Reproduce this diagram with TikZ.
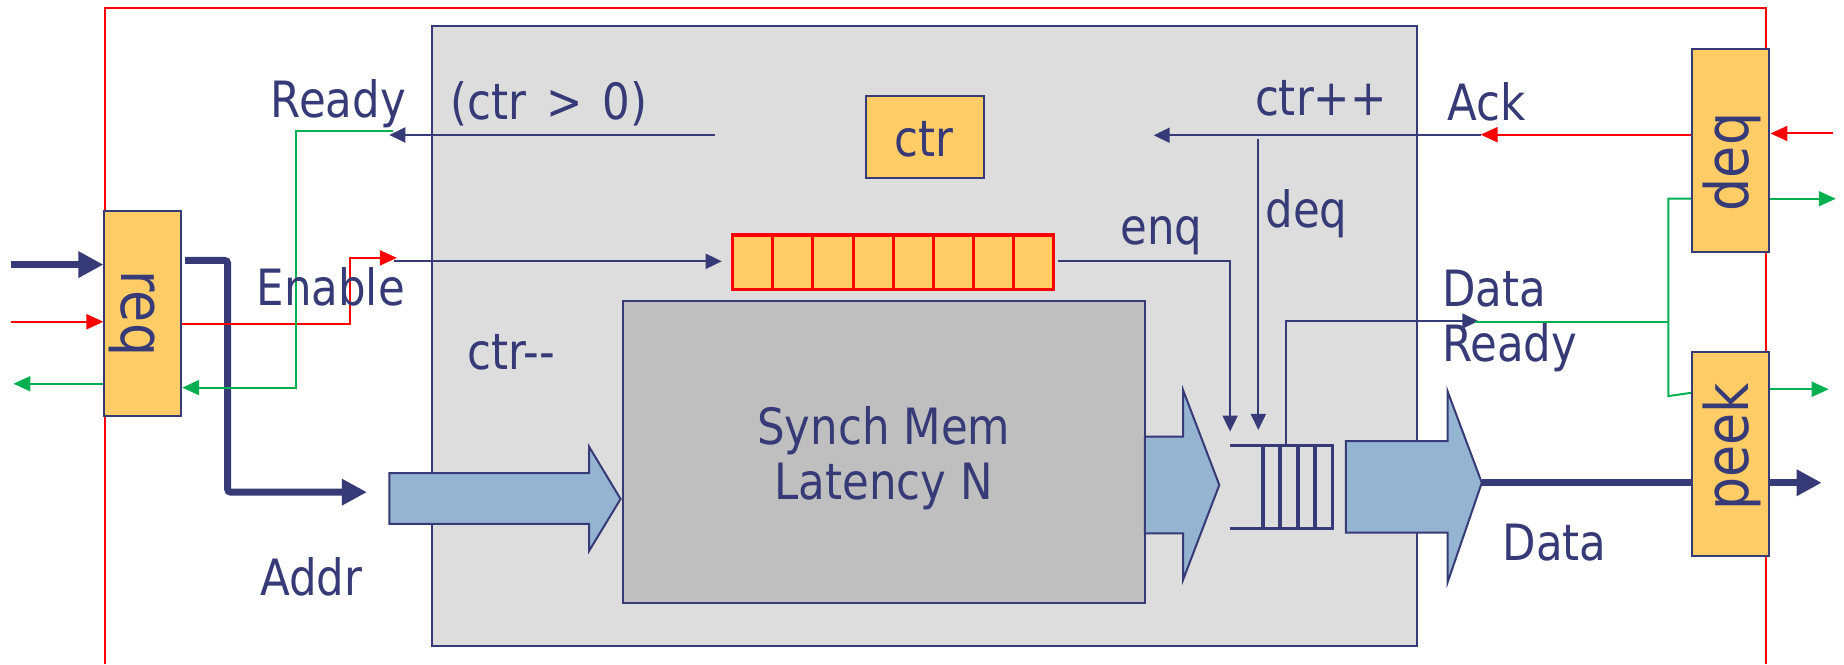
\documentclass[tikz,border=0pt]{standalone}
\usepackage{fontspec}
\setmainfont{DejaVu Sans}[FakeStretch=0.87]
\usetikzlibrary{arrows.meta,fit,calc}

\definecolor{navy}{RGB}{54,58,118}
\definecolor{panelgray}{RGB}{221,221,221}
\definecolor{memgray}{RGB}{191,191,191}
\definecolor{boxorange}{RGB}{255,204,102}
\definecolor{arrowblue}{RGB}{149,180,210}
\definecolor{sigred}{RGB}{255,0,0}
\definecolor{siggreen}{RGB}{0,176,80}

\pgfdeclarelayer{back}
\pgfdeclarelayer{wires}
\pgfsetlayers{back,wires,main}

\begin{document}
\begin{tikzpicture}[x=1.176pt,y=-1.176pt,
  font=\fontsize{50}{55}\selectfont,
  lbl/.style={text=navy, inner sep=0pt, anchor=base west},
  rot/.style={text=navy, inner sep=0pt, anchor=base, font=\fontsize{60}{60}\selectfont},
  ybox/.style={draw=navy, fill=boxorange, line width=2pt, inner sep=0pt},
  blk/.style={draw=navy, fill=arrowblue, line width=2pt, line join=miter},
  nwire/.style={draw=navy, line width=2pt},
  narrow/.style={draw=navy, line width=2pt, -{Triangle[length=16pt,width=15pt]}},
  rarrow/.style={draw=sigred, line width=2pt, -{Triangle[length=17pt,width=15pt]}},
  garrow/.style={draw=siggreen, line width=2pt, -{Triangle[length=17pt,width=15pt]}},
  gwire/.style={draw=siggreen, line width=2pt},
  bus/.style={draw=navy, line width=7pt, -{Triangle[length=25pt,width=25pt]}},
  qline/.style={draw=navy, line width=3.5pt}
]
\useasboundingbox (0,0) rectangle (1568,565);

% ---------- module outline, core panel and its contents ----------
\begin{pgfonlayer}{back}
  \draw[sigred, line width=2pt] (89,565) -- (89,7) -- (1502,7) -- (1502,565);

  \coordinate (coreNW) at (367,22);  \coordinate (coreSE) at (1205,549);
  \node[fit=(coreNW)(coreSE), inner sep=0pt, draw=navy, fill=panelgray, line width=2pt] (core) {};

  \coordinate (memNW) at (530,256);  \coordinate (memSE) at (973.5,513);
  \node[fit=(memNW)(memSE), inner sep=0pt, draw=navy, fill=memgray, line width=2pt] (mem) {};
  \node[text=navy, align=center, inner sep=0pt] (memtxt) at (751.5,390) {Synch Mem\\Latency N};

  \coordinate (ctrNW) at (736,82);  \coordinate (ctrSE) at (837,151);
  \node[ybox, fit=(ctrNW)(ctrSE)] (ctr) {};
  \node[text=navy, inner sep=0pt, anchor=base] (ctrtxt) at (786,133) {ctr};

  % request buffer with eight slots
  \coordinate (fifoNW) at (623,200);  \coordinate (fifoSE) at (896,246);
  \node[fit=(fifoNW)(fifoSE), inner sep=0pt, fill=boxorange, draw=sigred, line width=3.5pt] (fifo) {};
  \foreach \k in {1,...,7}
    \draw[sigred, line width=3pt] ({623+34.125*\k},200) -- ({623+34.125*\k},246);

  % wide data-path arrows
  \draw[blk] (331,402.4) -- (501,402.4) -- (501,380) -- (527.7,424.3)
             -- (501,468.3) -- (501,445.5) -- (331,445.5) -- cycle;
  \draw[blk] (973.5,371.3) -- (1006,371.3) -- (1006,331.7) -- (1036.8,412.4)
             -- (1006,493) -- (1006,453.5) -- (973.5,453.5) -- cycle;
  \draw[blk] (1144.4,375) -- (1231,375) -- (1231,333) -- (1260,410.5)
             -- (1231,495) -- (1231,453) -- (1144.4,453) -- cycle;
  \coordinate (outtip) at (1260,410.5);

  % response queue
  \draw[qline] (1046,379) -- (1133,379) -- (1133,449.5) -- (1046,449.5);
  \foreach \qx in {1074,1088.5,1103.5,1118}
    \draw[qline] (\qx,379) -- (\qx,449.5);
  \coordinate (qtop) at (1093.6,379);
\end{pgfonlayer}

% ---------- interface registers ----------
\coordinate (reqNW) at (88.8,179.7);   \coordinate (reqSE) at (154.1,353.7);
\node[ybox, fit=(reqNW)(reqSE)] (req) {};
\node[rot, rotate=-90] (reqtxt) at (103,266.5) {req};

\coordinate (deqNW) at (1439,41.4);    \coordinate (deqSE) at (1504.6,214.3);
\node[ybox, fit=(deqNW)(deqSE)] (deq) {};
\node[rot, rotate=90] (deqtxt) at (1487,137.8) {deq};

\coordinate (peekNW) at (1439,299);    \coordinate (peekSE) at (1504.6,472.5);
\node[ybox, fit=(peekNW)(peekSE)] (peek) {};
\node[rot, rotate=90] (peektxt) at (1487,380) {peek};

% ---------- wires ----------
\begin{pgfonlayer}{wires}
  % inputs and outputs of the request side
  \coordinate (busin) at (9.5,225);
  \draw[bus] (busin) -- (req.west |- busin);
  \coordinate (enin) at (9.5,273.6);
  \draw[rarrow] (enin) -- (req.west |- enin);
  \coordinate (rdyout) at (11.4,326.3);
  \draw[garrow] (req.west |- rdyout) -- (rdyout);

  % address bus
  \coordinate (addrA) at (157.5,221.5);
  \coordinate (addrB) at (312,418.5);
  \draw[bus, rounded corners=3pt] (addrA) -- (193.6,221.5) -- (193.6,418.5) -- (addrB);

  % enable
  \coordinate (enOut) at (337.5,219.3);
  \draw[rarrow] (req.east |- 0,275.5) -- (298,275.5) -- (298,219.3) -- (enOut);
  \coordinate (fifoIn) at (613.7,222.2);
  \draw[narrow] (335,222.2) -- (fifoIn);

  % ready
  \coordinate (rdySrc) at (607.7,114.8);
  \coordinate (rdyTip) at (331,114.8);
  \draw[narrow] (rdySrc) -- (rdyTip);
  \draw[garrow] (334,111.6) -- (251.3,111.6) -- (251.3,329.6) -- (req.east |- 0,329.6);

  % acknowledge / dequeue
  \coordinate (ackTip) at (1259,114.5);
  \draw[rarrow] (deq.west |- ackTip) -- (ackTip);
  \coordinate (ctrInc) at (981,115);
  \draw[narrow] (1259,115) -- (ctrInc);
  \coordinate (qDeq) at (1070,365.6);
  \draw[narrow] (1070,117.8) -- (qDeq);
  \coordinate (deqIn) at (1559,113.5);
  \draw[rarrow] (deqIn) -- (deq.east |- deqIn);
  \coordinate (deqOut) at (1561,169);
  \draw[garrow] (deq.east |- deqOut) -- (deqOut);
  \coordinate (peekOut) at (1555,331);
  \draw[garrow] (peek.east |- peekOut) -- (peekOut);

  % data ready
  \coordinate (drTip) at (1257,273);
  \draw[narrow] (qtop) -- (1093.6,273) -- (drTip);
  \draw[gwire] (1254,273.7) -- (1418.6,273.7);
  \draw[gwire] (deq.west |- 0,169) -- (1418.6,169) -- (1418.6,336.8) -- (peek.west |- 0,334);

  % enqueue
  \coordinate (qEnq) at (1046,367);
  \draw[narrow] (899.4,222) -- (1046,222) -- (qEnq);

  % data out
  \coordinate (dataOut) at (1549,410.5);
  \draw[bus] (outtip) -- (dataOut);
\end{pgfonlayer}

% ---------- labels ----------
\node[lbl] (tReady)  at (230,100)    {Ready};
\node[lbl] (tCond)   at (383,102)    {(ctr \hspace{6pt}> \hspace{6pt}0)};
\node[lbl] (tInc)    at (1067,98)    {ctr++};
\node[lbl] (tAck)    at (1231,102.6) {Ack};
\node[lbl] (tDeq)    at (1076,193.4) {deq};
\node[lbl] (tEnq)    at (952.5,208.2){enq};
\node[lbl] (tEnable) at (218,259.4)  {Enable};
\node[lbl] (tDec)    at (397.6,314.5){ctr-{}-};
\node[lbl] (tAddr)   at (221,506)    {Addr};
\node[lbl] (tData1)  at (1226,261)   {Data};
\node[lbl] (tData2)  at (1226,307)   {Ready};
\node[lbl] (tDataO)  at (1277.6,477) {Data};
\end{tikzpicture}
\end{document}
